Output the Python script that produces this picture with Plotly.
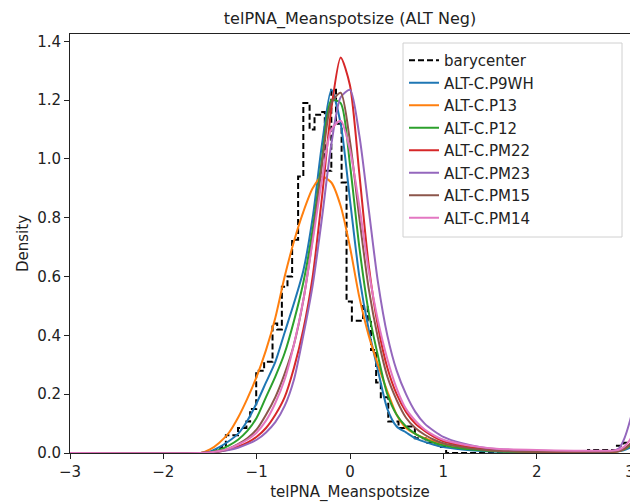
import plotly.graph_objects as go

# ---- data ----
x_grid = [-3.0, -1.6, -1.5, -1.4, -1.3, -1.2, -1.1, -1.0, -0.9, -0.8, -0.7, -0.6,
          -0.5, -0.4, -0.3, -0.2, -0.1, 0.0, 0.1, 0.2, 0.3, 0.4, 0.5, 0.6, 0.7,
          0.8, 0.9, 1.0, 1.2, 1.4, 1.6, 2.0, 2.4, 2.8, 2.88, 2.94, 3.0, 3.06]

p9wh = [0, 0, 0.005, 0.02, 0.04, 0.065, 0.11, 0.17, 0.24, 0.31, 0.41, 0.51,
        0.62, 0.80, 1.05, 1.235, 1.12, 0.86, 0.60, 0.42, 0.28, 0.15, 0.09, 0.07, 0.05,
        0.038, 0.028, 0.02, 0.012, 0.007, 0.004, 0.003, 0.003, 0.004, 0.006, 0.01, 0.018, 0.03]
p13 = [0, 0, 0.012, 0.035, 0.068, 0.12, 0.185, 0.26, 0.35, 0.46, 0.60, 0.72,
       0.82, 0.90, 0.94, 0.92, 0.84, 0.70, 0.53, 0.40, 0.30, 0.21, 0.13, 0.085, 0.065,
       0.05, 0.04, 0.03, 0.02, 0.012, 0.008, 0.005, 0.003, 0.004, 0.007, 0.013, 0.025, 0.04]
p12 = [0, 0, 0.003, 0.01, 0.025, 0.045, 0.075, 0.12, 0.19, 0.26, 0.34, 0.45,
       0.58, 0.76, 1.00, 1.20, 1.19, 0.98, 0.70, 0.48, 0.33, 0.20, 0.13, 0.09, 0.065,
       0.048, 0.035, 0.026, 0.015, 0.009, 0.005, 0.003, 0.003, 0.004, 0.007, 0.013, 0.025, 0.04]
pm22 = [0, 0, 0.002, 0.005, 0.012, 0.022, 0.035, 0.055, 0.085, 0.13, 0.19, 0.29,
        0.42, 0.60, 0.87, 1.17, 1.345, 1.25, 0.95, 0.64, 0.43, 0.29, 0.20, 0.14, 0.10,
        0.075, 0.055, 0.04, 0.025, 0.015, 0.009, 0.005, 0.004, 0.005, 0.007, 0.015, 0.03, 0.05]
pm23 = [0, 0, 0.002, 0.005, 0.01, 0.018, 0.03, 0.045, 0.07, 0.105, 0.16, 0.25,
        0.40, 0.57, 0.80, 1.05, 1.21, 1.235, 1.08, 0.83, 0.58, 0.40, 0.28, 0.20, 0.14,
        0.10, 0.075, 0.055, 0.033, 0.02, 0.013, 0.008, 0.006, 0.007, 0.015, 0.05, 0.11, 0.19]
pm15 = [0, 0, 0.002, 0.006, 0.015, 0.03, 0.05, 0.08, 0.13, 0.19, 0.27, 0.37,
        0.52, 0.73, 0.98, 1.19, 1.225, 1.06, 0.80, 0.56, 0.39, 0.26, 0.18, 0.12, 0.085,
        0.062, 0.045, 0.033, 0.02, 0.012, 0.007, 0.004, 0.004, 0.005, 0.007, 0.015, 0.03, 0.05]
pm14 = [0, 0, 0.002, 0.007, 0.015, 0.028, 0.045, 0.07, 0.11, 0.17, 0.25, 0.37,
        0.52, 0.72, 0.93, 1.10, 1.13, 1.03, 0.84, 0.62, 0.45, 0.32, 0.22, 0.15, 0.11,
        0.08, 0.06, 0.045, 0.03, 0.02, 0.014, 0.01, 0.008, 0.008, 0.011, 0.022, 0.045, 0.08]

bary_x = [-3.0, -1.455, -1.39, -1.33, -1.20, -1.11, -1.07, -1.005, -0.92, -0.83, -0.78,
          -0.73, -0.67, -0.62, -0.556, -0.50, -0.433, -0.38, -0.32, -0.27, -0.20, -0.15,
          -0.09, -0.037, 0.02, 0.085, 0.14, 0.19, 0.225, 0.28, 0.33, 0.41, 0.52, 0.59,
          0.695, 0.81, 0.94, 1.03, 2.55, 2.86, 2.93, 3.06]
bary_y = [0.0, 0.01, 0.02, 0.06, 0.085, 0.107, 0.15, 0.28, 0.31, 0.44, 0.42,
          0.565, 0.60, 0.725, 0.94, 1.19, 1.10, 1.15, 1.16, 0.96, 1.235, 1.12,
          0.92, 0.515, 0.45, 0.45, 0.50, 0.45, 0.35, 0.24, 0.19, 0.107, 0.085, 0.09,
          0.05, 0.035, 0.02, 0.0, 0.01, 0.025, 0.035, 0.035]

series = [
    ("ALT-C.P9WH", p9wh, "#1f77b4"),
    ("ALT-C.P13", p13, "#ff7f0e"),
    ("ALT-C.P12", p12, "#2ca02c"),
    ("ALT-C.PM22", pm22, "#d62728"),
    ("ALT-C.PM23", pm23, "#9467bd"),
    ("ALT-C.PM15", pm15, "#8c564b"),
    ("ALT-C.PM14", pm14, "#e377c2"),
]

x_ticks = [-3, -2, -1, 0, 1, 2, 3]
x_ticktext = ["\u22123", "\u22122", "\u22121", "0", "1", "2", "3"]
y_ticks = [0.0, 0.2, 0.4, 0.6, 0.8, 1.0, 1.2, 1.4]

FONT = "DejaVu Sans"

fig = go.Figure()
fig.add_trace(go.Scatter(x=bary_x, y=bary_y, mode="lines", name="barycenter",
                         line=dict(color="black", width=2, dash="6px,3px", shape="hv")))
for name, vals, col in series:
    fig.add_trace(go.Scatter(x=x_grid, y=vals, mode="lines", name=name,
                             line=dict(color=col, width=2, shape="spline", smoothing=0.7)))

W, H = 630, 504
L, R, T, B = 70, 0, 34, 51
PW, PH = W - L - R, H - T - B


def px_x(p):
    return (p - L) / PW


def px_y(p):
    return (H - B - p) / PH


# legend frame (matplotlib-style box, wider than its entries)
fig.add_shape(type="rect", xref="paper", yref="paper",
              x0=px_x(403), x1=px_x(622), y0=px_y(237), y1=px_y(43),
              line=dict(color="#d0d0d0", width=1), fillcolor="rgba(255,255,255,0.8)",
              layer="above")

fig.update_layout(
    width=W, height=H,
    margin=dict(l=L, r=R, t=T, b=B, autoexpand=False),
    paper_bgcolor="white", plot_bgcolor="white",
    font=dict(family=FONT, size=15, color="#222"),
    title=dict(text="telPNA_Meanspotsize (ALT Neg)", x=350 / W, xanchor="center",
               y=1 - 18 / H, yanchor="middle", font=dict(size=16, family=FONT, color="#222")),
    showlegend=True,
    legend=dict(x=px_x(404), y=px_y(44), xanchor="left", yanchor="top",
                bgcolor="rgba(0,0,0,0)", borderwidth=0,
                font=dict(size=15, family=FONT, color="#222"), tracegroupgap=0),
    xaxis=dict(range=[-3, 3.0], tickvals=x_ticks, ticktext=x_ticktext, automargin=False,
               showgrid=False, zeroline=False, showline=True, linecolor="#222", linewidth=1,
               mirror=True, ticks="outside", ticklen=5, tickcolor="#222",
               ticklabeloverflow="allow",
               title=dict(text="telPNA_Meanspotsize", standoff=6, font=dict(size=15)),
               tickfont=dict(size=15)),
    yaxis=dict(range=[0, 1.425], tickvals=y_ticks, tickformat=".1f", automargin=False,
               showgrid=False, zeroline=False, showline=True, linecolor="#222", linewidth=1,
               mirror=True, ticks="outside", ticklen=5, tickcolor="#222",
               title=dict(text="Density", standoff=4, font=dict(size=15)),
               tickfont=dict(size=15)),
)

fig.write_html("out.html")
